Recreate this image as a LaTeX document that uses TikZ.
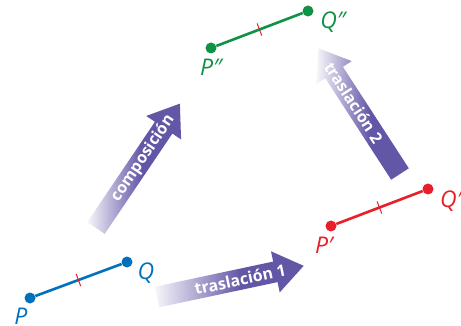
\documentclass[tikz,border=0pt]{standalone}
\usepackage{fontspec}
\setmainfont{Open Sans}
\usetikzlibrary{decorations.markings, calc}
\definecolor{segblue}{RGB}{0,114,188}
\definecolor{segred}{RGB}{232,30,40}
\definecolor{seggreen}{RGB}{16,145,70}
\definecolor{arrowpurple}{RGB}{98,86,166}
\pgfdeclarehorizontalshading{arrowfade}{100bp}{color(0bp)=(white); color(25bp)=(white!95!arrowpurple); color(54bp)=(arrowpurple); color(100bp)=(arrowpurple)}
\tikzset{
  segment/.style={line width=2.6pt,
    postaction={decorate, decoration={markings,
      mark=at position 0.5 with {\draw[segred, line width=1pt] (0,-6.5pt) -- (0,6.5pt);}}}},
  dot/.style={circle, fill, inner sep=0pt, minimum size=11pt},
  ptlabel/.style={font=\itshape\fontsize{23}{23}\selectfont, inner sep=0pt},
  arrowtext/.style={text=white, font=\bfseries\fontsize{16}{16}\selectfont, inner sep=0pt},
  fadearrow/.pic={
    \shade[shading=arrowfade] (0,-10.5) -- (121,-10.5) -- (121,-21) -- (150,0)
      -- (121,21) -- (121,10.5) -- (0,10.5) -- cycle;
  }
}
\begin{document}
\begin{tikzpicture}[x=1pt, y=-1pt]
\useasboundingbox (0,0) rectangle (461,326);

% segmento PQ
\node[dot, segblue] (P) at (30,298) {};
\node[dot, segblue] (Q) at (127,262) {};
\draw[segment, segblue] (P) -- (Q);
\node[ptlabel, segblue] (labP) at (21,316) {P};
\node[ptlabel, segblue] (labQ) at (146,273) {Q};

% segmento P'Q'
\node[dot, segred] (P1) at (331,226) {};
\node[dot, segred] (Q1) at (428,189) {};
\draw[segment, segred] (P1) -- (Q1);
\node[ptlabel, segred] (labP1) at (324,245) {P′};
\node[ptlabel, segred] (labQ1) at (451,201) {Q′};

% segmento P''Q''
\node[dot, seggreen] (P2) at (211,48) {};
\node[dot, seggreen] (Q2) at (308,11) {};
\draw[segment, seggreen] (P2) -- (Q2);
\node[ptlabel, seggreen] (labP2) at (211,67) {P″};
\node[ptlabel, seggreen] (labQ2) at (333,22) {Q″};

% flechas
\begin{scope}[shift={(157,297)}, rotate=12]
  \pic[transform shape] {fadearrow};
  \node[arrowtext, rotate=12] (tras1) at (85,0) {traslación 1};
\end{scope}
\begin{scope}[shift={(96,228)}, rotate=56]
  \pic[transform shape] {fadearrow};
  \node[arrowtext, rotate=56] (comp) at (84,0) {composición};
\end{scope}
\begin{scope}[shift={(400,174)}, rotate=123]
  \pic[transform shape] {fadearrow};
  \node[arrowtext, rotate=-57] (tras2) at (85,0) {traslación 2};
\end{scope}
\end{tikzpicture}
\end{document}
